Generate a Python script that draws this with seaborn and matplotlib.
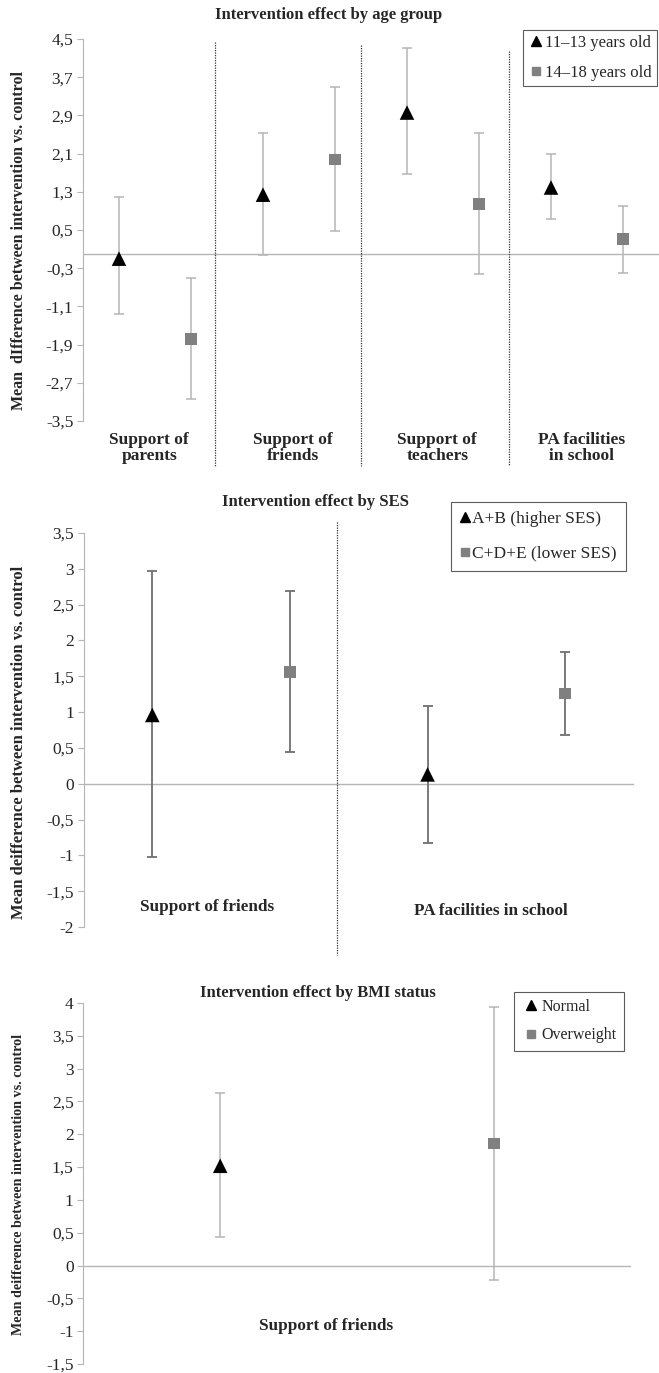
import numpy as np
import pandas as pd
import matplotlib
matplotlib.use('Agg')
import matplotlib.pyplot as plt
import seaborn as sns
from matplotlib.lines import Line2D

# Panel 1: intervention effect by age group
age_categories = ['Support of\nparents', 'Support of\nfriends', 'Support of\nteachers', 'PA facilities\nin school']
age_groups = ['11\u201313 years old', '14\u201318 years old']
age_mean_young = [-0.1, 1.24, 2.96, 1.39]
age_low_young = [-1.26, -0.02, 1.68, 0.73]
age_high_young = [1.19, 2.54, 4.31, 2.09]
age_mean_old = [-1.78, 1.98, 1.05, 0.31]
age_low_old = [-3.04, 0.48, -0.42, -0.40]
age_high_old = [-0.51, 3.49, 2.54, 1.01]
age_ticks = [4.5, 3.7, 2.9, 2.1, 1.3, 0.5, -0.3, -1.1, -1.9, -2.7, -3.5]

# Panel 2: intervention effect by SES
ses_categories = ['Support of friends', 'PA facilities in school']
ses_groups = ['A+B (higher SES)', 'C+D+E (lower SES)']
ses_mean_high = [0.96, 0.13]
ses_low_high = [-1.02, -0.83]
ses_high_high = [2.97, 1.08]
ses_mean_low = [1.56, 1.26]
ses_low_low = [0.44, 0.68]
ses_high_low = [2.69, 1.84]
ses_ticks = [3.5, 3, 2.5, 2, 1.5, 1, 0.5, 0, -0.5, -1, -1.5, -2]

# Panel 3: intervention effect by BMI status
bmi_categories = ['Support of friends']
bmi_groups = ['Normal', 'Overweight']
bmi_mean_normal = [1.52]
bmi_low_normal = [0.43]
bmi_high_normal = [2.63]
bmi_mean_over = [1.86]
bmi_low_over = [-0.22]
bmi_high_over = [3.94]
bmi_ticks = [4, 3.5, 3, 2.5, 2, 1.5, 1, 0.5, 0, -0.5, -1, -1.5]

sns.set_style('white')
plt.rcParams['font.family'] = ['Liberation Serif', 'DejaVu Serif']

W, H = 659, 1373
fig = plt.figure(figsize=(W / 100, H / 100), dpi=100)


def make_df(categories, groups, m1, l1, h1, m2, l2, h2):
    rows = []
    for i, c in enumerate(categories):
        rows.append(dict(cat=c, group=groups[0], x=i - 0.25, mean=m1[i], lo=l1[i], hi=h1[i]))
        rows.append(dict(cat=c, group=groups[1], x=i + 0.25, mean=m2[i], lo=l2[i], hi=h2[i]))
    return pd.DataFrame(rows)


def draw_panel(rect, df, groups, ticks, ecolor, elw, tick_fs):
    ax = fig.add_axes(rect)
    ncat = df['cat'].nunique()
    ax.axhline(0, color='#b5b5b5', lw=1.0, zorder=1)
    for g in groups:
        d = df[df['group'] == g]
        ax.errorbar(d['x'], d['mean'], yerr=[d['mean'] - d['lo'], d['hi'] - d['mean']],
                    fmt='none', ecolor=ecolor, elinewidth=elw, capsize=3.5, capthick=elw, zorder=2)
    sns.scatterplot(data=df, x='x', y='mean', hue='group', style='group', size='group',
                    hue_order=groups, style_order=groups, size_order=groups,
                    palette=['black', '#808080'], markers=['^', 's'],
                    sizes={groups[0]: 110, groups[1]: 70},
                    edgecolor='none', legend=False, ax=ax, zorder=3)
    ax.set_xlim(-0.5, ncat - 0.5)
    ax.set_ylim(min(ticks), max(ticks))
    ax.set_yticks(ticks)
    ax.set_yticklabels([('%g' % t).replace('.', ',') for t in ticks], fontsize=tick_fs)
    ax.set_xticks([])
    ax.set_xlabel('')
    ax.set_ylabel('')
    for s in ['top', 'right', 'bottom']:
        ax.spines[s].set_visible(False)
    ax.spines['left'].set_color('#b5b5b5')
    ax.tick_params(axis='y', left=True, length=4, color='#b5b5b5', pad=3)
    ax.patch.set_alpha(0)
    return ax


def legend(ax, groups, fs, loc, bbox, spacing, pad, hlen, tpad):
    handles = [Line2D([], [], ls='none', marker='^', color='black', markersize=7),
               Line2D([], [], ls='none', marker='s', color='#808080', markersize=6)]
    leg = ax.legend(handles, groups, loc=loc, bbox_to_anchor=bbox, fontsize=fs,
                    frameon=True, fancybox=False, handlelength=hlen, handletextpad=tpad,
                    labelspacing=spacing, borderpad=pad, borderaxespad=0)
    leg.get_frame().set_edgecolor('#333333')
    leg.get_frame().set_linewidth(0.8)


def px(x0, y0, x1, y1):
    return [x0 / W, 1 - y1 / H, (x1 - x0) / W, (y1 - y0) / H]


# ---- panel 1
df1 = make_df(age_categories, age_groups, age_mean_young, age_low_young, age_high_young,
              age_mean_old, age_low_old, age_high_old)
ax1 = draw_panel(px(83, 39, 659, 421), df1, age_groups, age_ticks, '#b5b5b5', 1.1, 12.5)
for xs, y0 in zip([0.42, 1.43, 2.46], [4.44, 4.37, 4.25]):
    ax1.plot([xs, xs], [y0, -4.44], color='#333333', lw=0.9, ls=(0, (1, 1)), clip_on=False)
for i, c in enumerate(age_categories):
    ax1.text(i - 0.04, -3.72, c, ha='center', va='top', fontsize=12.5, fontweight='bold',
             linespacing=1.0)
fig.text(329 / W, 1 - 15 / H, 'Intervention effect by age group', ha='center', va='center',
         fontsize=12, fontweight='bold')
fig.text(19 / W, 1 - 241 / H, 'Mean  dIfference between intervention vs. control', rotation=90,
         ha='center', va='center', fontsize=11.5, fontweight='bold')
legend(ax1, age_groups, 12, 'upper left', ((522.7 - 83) / 576, 1.024), 0.85, 0.3, 0.95, 0.1)

# ---- panel 2
df2 = make_df(ses_categories, ses_groups, ses_mean_high, ses_low_high, ses_high_high,
              ses_mean_low, ses_low_low, ses_high_low)
ax2 = draw_panel(px(83.5, 533, 634, 927), df2, ses_groups, ses_ticks, '#707070', 1.3, 12.5)
ax2.plot([0.42, 0.42], [3.65, -2.39], color='#333333', lw=0.9, ls=(0, (1, 1)), clip_on=False)
ax2.text(-0.05, -1.72, ses_categories[0], ha='center', va='center', fontsize=12.3, fontweight='bold')
ax2.text(0.98, -1.77, ses_categories[1], ha='center', va='center', fontsize=12.3, fontweight='bold')
fig.text(316 / W, 1 - 502 / H, 'Intervention effect by SES', ha='center', va='center',
         fontsize=12, fontweight='bold')
fig.text(19 / W, 1 - 742 / H, 'Mean deifference between intervention vs. control', rotation=90,
         ha='center', va='center', fontsize=12, fontweight='bold')
legend(ax2, ses_groups, 12.5, 'upper left', (0.668, 1.0795), 1.05, 0.55, 0.5, 0.15)

# ---- panel 3
df3 = make_df(bmi_categories, bmi_groups, bmi_mean_normal, bmi_low_normal, bmi_high_normal,
              bmi_mean_over, bmi_low_over, bmi_high_over)
ax3 = draw_panel(px(83.3, 1003, 631, 1364), df3, bmi_groups, bmi_ticks, '#b5b5b5', 1.1, 12.5)
ax3.text(-0.057, -0.92, bmi_categories[0], ha='center', va='center', fontsize=12.3, fontweight='bold')
fig.text(318 / W, 1 - 993 / H, 'Intervention effect by BMI status', ha='center', va='center',
         fontsize=12, fontweight='bold')
fig.text(19 / W, 1 - 1184 / H, 'Mean deifference between intervention vs. control', rotation=90,
         ha='center', va='center', fontsize=10.2, fontweight='bold')
legend(ax3, bmi_groups, 11.5, 'upper left', (0.786, 1.031), 0.78, 0.45, 1.3, 0.0)

fig.savefig('out.png', dpi=100)
